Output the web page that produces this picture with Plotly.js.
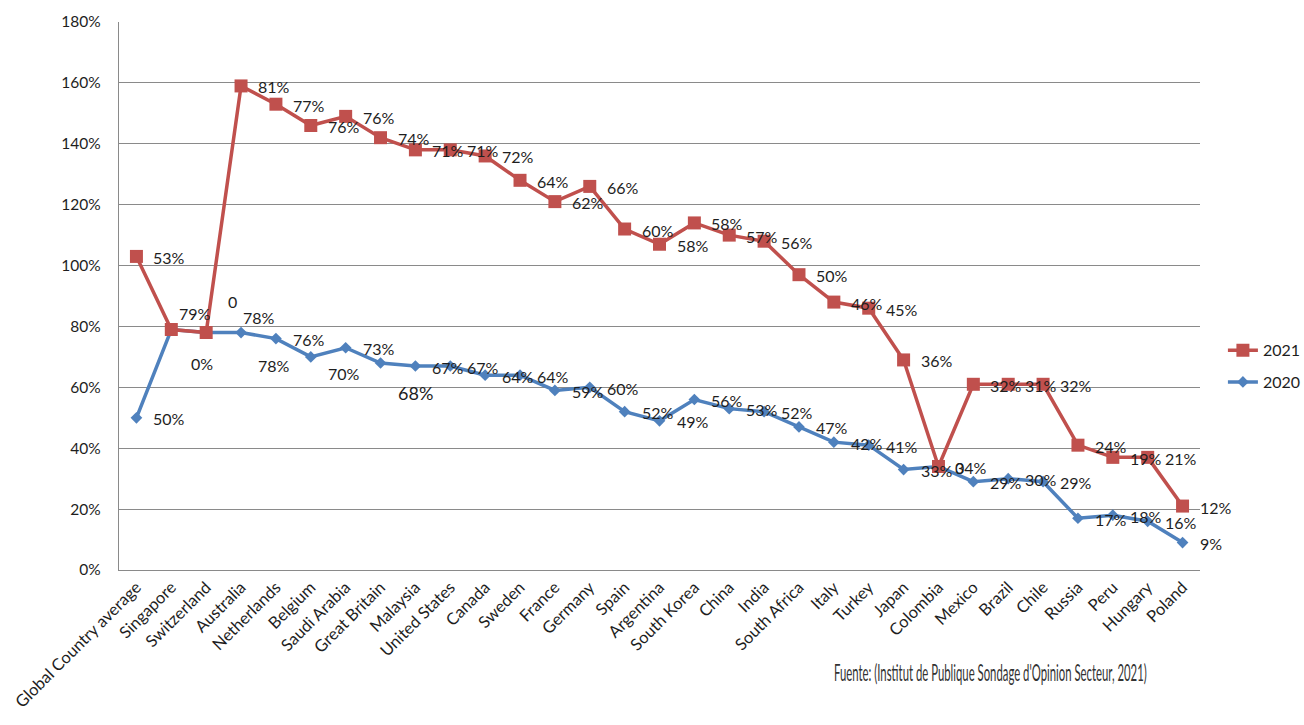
<!DOCTYPE html>
<html>
<head>
<meta charset="utf-8">
<script src="https://cdn.plot.ly/plotly-3.0.1.min.js"></script>
<style>
  html, body { margin: 0; padding: 0; background: #fff; }
  #chart { width: 1304px; height: 725px; }
</style>
</head>
<body>
<div id="chart"></div>
<script>
// ---- data ----
const categories = ["Global Country average","Singapore","Switzerland","Australia","Netherlands","Belgium","Saudi Arabia","Great Britain","Malaysia","United States","Canada","Sweden","France","Germany","Spain","Argentina","South Korea","China","India","South Africa","Italy","Turkey","Japan","Colombia","Mexico","Brazil","Chile","Russia","Peru","Hungary","Poland"];
const values2020 = [50,79,78,78,76,70,73,68,67,67,64,64,59,60,52,49,56,53,52,47,42,41,33,34,29,30,29,17,18,16,9];
const values2021 = [53,0,0,81,77,76,76,74,71,71,72,64,62,66,60,58,58,57,56,50,46,45,36,0,32,31,32,24,19,21,12];
const labels2020 = ["50%","79%","78%","78%","76%","70%","73%","68%","67%","67%","64%","64%","59%","60%","52%","49%","56%","53%","52%","47%","42%","41%","33%","34%","29%","30%","29%","17%","18%","16%","9%"];
const labels2021 = ["53%","0%","0","81%","77%","76%","76%","74%","71%","71%","72%","64%","62%","66%","60%","58%","58%","57%","56%","50%","46%","45%","36%","0","32%","31%","32%","24%","19%","21%","12%"];
const yTickVals = [0,20,40,60,80,100,120,140,160,180];
const yTickText = ["0%","20%","40%","60%","80%","100%","120%","140%","160%","180%"];
const sourceText = "Fuente: (Institut de Publique Sondage d'Opinion Secteur, 2021)";

// ---- styles ----
const RED = "#C0504D", BLUE = "#4F81BD", GRID = "#8a8a8a", TXT = "#1e1e1e";
const FONT = "Lato, 'Open Sans', 'Liberation Sans', sans-serif";
// label offsets (pixels): dx from point to label's left edge, dy downward
const blueOffsets = {1:{dx:8,dy:-16}, 2:{dx:37,dy:-15}, 3:{dx:17,dy:33}, 5:{dy:17}, 7:{dy:30,size:18}};
const redOffsets = {1:{dx:20,dy:34}, 2:{dx:22,dy:-31}};

const traces = [
  {
    x: categories, y: values2020, name: "2020", type: "scatter", mode: "lines+markers",
    stackgroup: "s", fill: "none", legendgroup: "a", legendrank: 2,
    line: {color: BLUE, width: 3.5},
    marker: {symbol: "diamond", size: 9, color: BLUE},
    hoverinfo: "skip"
  },
  {
    x: categories, y: values2021, name: "2021", type: "scatter", mode: "lines+markers",
    stackgroup: "s", fill: "none", legendgroup: "b", legendrank: 1,
    line: {color: RED, width: 3.5},
    marker: {symbol: "square", size: 13, color: RED},
    hoverinfo: "skip"
  }
];

const annotations = [];
function addLabels(labels, yvals, offsets) {
  labels.forEach((t, i) => {
    const o = offsets[i] || {};
    annotations.push({
      x: categories[i], y: yvals[i], xref: "x", yref: "y",
      text: t, showarrow: false, xanchor: "left", yanchor: "middle",
      xshift: (o.dx !== undefined ? o.dx : 17) - 2, yshift: -((o.dy !== undefined ? o.dy : 1)),
      font: {family: FONT, size: o.size || 16, color: TXT}
    });
  });
}
addLabels(labels2020, values2020, blueOffsets);
addLabels(labels2021, values2021.map((v, i) => v + values2020[i]), redOffsets);
annotations.push({
  xref: "paper", yref: "paper", x: 0.806, y: -0.186, xanchor: "center", yanchor: "middle",
  text: sourceText, showarrow: false, font: {family: FONT, size: 23, color: "#333"}
});

const layout = {
  width: 1304, height: 725,
  margin: {l: 119, r: 104, t: 22, b: 155, autoexpand: false},
  paper_bgcolor: "#fff", plot_bgcolor: "#fff",
  showlegend: true,
  legend: {x: 1.0212, xanchor: "left", y: 0.432, yanchor: "top", traceorder: "grouped",
           tracegroupgap: 8, font: {family: FONT, size: 16, color: TXT}, bgcolor: "rgba(0,0,0,0)"},
  xaxis: {
    type: "category", range: [-0.5, 30.5], tickangle: -45, showgrid: false, automargin: false,
    showline: true, linecolor: GRID, linewidth: 1.3, ticks: "", fixedrange: true,
    tickfont: {family: FONT, size: 16.5, color: TXT}
  },
  yaxis: {
    range: [0, 180], tickvals: yTickVals, ticktext: yTickText, showgrid: true, automargin: false,
    gridcolor: GRID, gridwidth: 1.2, showline: true, linecolor: GRID, linewidth: 1.3,
    zeroline: false, ticks: "", ticklabelstandoff: 14, fixedrange: true,
    tickfont: {family: FONT, size: 15.5, color: TXT}
  },
  annotations: annotations
};

Plotly.newPlot("chart", traces, layout, {staticPlot: true, displayModeBar: false}).then(gd => {
  gd.querySelectorAll("text.annotation-text").forEach(t => {
    if (t.textContent.indexOf("Fuente") === 0) {
      const bb = t.getBBox();
      const cx = bb.x + bb.width / 2;
      const s = 313 / bb.width;
      t.setAttribute("transform", `translate(${cx},0) scale(${s},1) translate(${-cx},0)`);
    }
  });
});
</script>
</body>
</html>
